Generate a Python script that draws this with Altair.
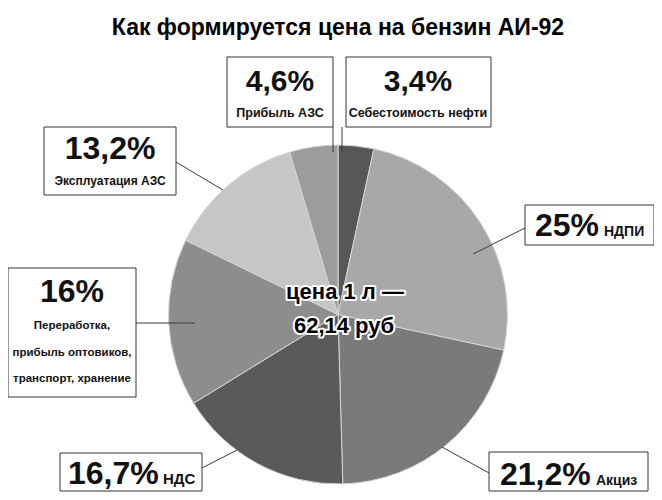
import altair as alt
import pandas as pd

# ---------------- data ----------------
categories = ["Себестоимость нефти", "НДПИ", "Акциз", "НДС",
              "Переработка, прибыль оптовиков, транспорт, хранение",
              "Эксплуатация АЗС", "Прибыль АЗС"]
values = [3.4, 25.0, 21.2, 16.7, 16.0, 13.2, 4.6]
pct_labels = ["3,4%", "25%", "21,2%", "16,7%", "16%", "13,2%", "4,6%"]
label_lines = [["Себестоимость нефти"], ["НДПИ"], ["Акциз"], ["НДС"],
               ["Переработка,", "прибыль оптовиков,", "транспорт, хранение"],
               ["Эксплуатация АЗС"], ["Прибыль АЗС"]]
title_text = "Как формируется цена на бензин АИ-92"
center_lines = ["цена 1 л —", "62,14 руб"]

# ---------------- styling / layout (page pixels) ----------------
colors = ["#575757", "#a8a8a8", "#7a7a7a", "#5a5a5a", "#8d8d8d", "#c6c6c6", "#9c9c9c"]
OFF = 8
W, H = 646, 484
CX, CY, R = 338, 314.5, 169.5
FONT = "Liberation Sans, Arial, sans-serif"

box_x0 = [346, 525, 489, 60, 8, 44, 227]
box_x1 = [491, 654, 648, 202, 136, 176, 333]
box_y0 = [57, 205, 452, 453, 268, 127, 57]
box_y1 = [127, 245, 491, 491, 397, 195, 127]
stacked = [True, False, False, False, True, True, True]
pct_x = [418, 535, 500, 68, 72, 110, 280]
pct_y = [91, 236, 485, 484, 302, 159, 91]
pct_size = [30, 32, 32, 32, 32, 32, 30]
lab_x = [418, 604, 596, 163, 72, 110, 280]
lab_y0 = [117, 236, 485, 484, 329, 185, 117]
lab_size = [12.5, 14, 14, 15, 11.5, 12, 12.5]
LAB_DY = 26.5
lead_x0 = [342, 525, 489, 202, 136, 176, 333]
lead_y0 = [127, 228, 473, 468, 323, 162, 127]
lead_x1 = [342, 473, 442, 237, 195, 223, 333]
lead_y1 = [152, 254, 447, 450, 323, 190, 152]

# ---------------- tables ----------------
pie_df = pd.DataFrame({"category": categories, "value": values,
                       "order": list(range(len(values)))})

box_df = pd.DataFrame({
    "x0": [v - OFF for v in box_x0], "x1": [v - OFF for v in box_x1],
    "y0": [v - OFF for v in box_y0], "y1": [v - OFF for v in box_y1]})
lead_df = pd.DataFrame({
    "x0": [v - OFF for v in lead_x0], "x1": [v - OFF for v in lead_x1],
    "y0": [v - OFF for v in lead_y0], "y1": [v - OFF for v in lead_y1]})

pct_rows, lab_rows = [], []
for i in range(len(values)):
    pct_rows.append({"x": pct_x[i] - OFF, "y": pct_y[i] - OFF, "text": pct_labels[i],
                     "size": pct_size[i], "stacked": stacked[i]})
    for j, line in enumerate(label_lines[i]):
        lab_rows.append({"x": lab_x[i] - OFF, "y": lab_y0[i] + j * LAB_DY - OFF,
                         "text": line, "size": lab_size[i], "stacked": stacked[i]})
pct_df = pd.DataFrame(pct_rows)
lab_df = pd.DataFrame(lab_rows)

center_df = pd.DataFrame({"text": center_lines,
                          "x": [345 - OFF, 344 - OFF],
                          "y": [299 - OFF, 333 - OFF]})
title_df = pd.DataFrame({"text": [title_text], "x": [338 - OFF], "y": [35 - OFF]})

X = lambda f: alt.X(f"{f}:Q", scale=None, axis=None)
Y = lambda f: alt.Y(f"{f}:Q", scale=None, axis=None)

# ---------------- layers ----------------
pie = alt.Chart(pie_df).mark_arc(outerRadius=R, stroke="#d6d6d6", strokeWidth=1).encode(
    theta=alt.Theta("value:Q", stack=True),
    order=alt.Order("order:Q"),
    color=alt.Color("category:N", scale=alt.Scale(domain=categories, range=colors), legend=None),
    x=alt.value(CX - OFF), y=alt.value(CY - OFF))

leaders = alt.Chart(lead_df).mark_rule(color="#3a3a3a", strokeWidth=1).encode(
    x=X("x0"), x2="x1", y=Y("y0"), y2="y1")

boxes = alt.Chart(box_df).mark_rect(fill="white", stroke="#333333", strokeWidth=1).encode(
    x=X("x0"), x2="x1", y=Y("y0"), y2="y1")

def text_layer(df, align):
    return alt.Chart(df).mark_text(align=align, baseline="alphabetic", font=FONT,
                                   fontWeight="bold", color="#111111").encode(
        x=X("x"), y=Y("y"), text="text:N", size=alt.Size("size:Q", scale=None, legend=None))

pct_c = text_layer(pct_df[pct_df.stacked], "center")
pct_l = text_layer(pct_df[~pct_df.stacked], "left")
lab_c = text_layer(lab_df[lab_df.stacked], "center")
lab_l = text_layer(lab_df[~lab_df.stacked], "left")

center_halo = alt.Chart(center_df).mark_text(
    align="center", baseline="alphabetic", font=FONT, fontSize=22, fontWeight="bold",
    fill="white", stroke="white", strokeWidth=4, strokeJoin="round").encode(
    x=X("x"), y=Y("y"), text="text:N")
center_txt = alt.Chart(center_df).mark_text(
    align="center", baseline="alphabetic", font=FONT, fontSize=22, fontWeight="bold",
    color="#000000").encode(x=X("x"), y=Y("y"), text="text:N")

title = alt.Chart(title_df).mark_text(
    align="center", baseline="alphabetic", font=FONT, fontSize=23, fontWeight="bold",
    color="#000000").encode(x=X("x"), y=Y("y"), text="text:N")

chart = alt.layer(pie, leaders, boxes, pct_c, pct_l, lab_c, lab_l,
                  center_halo, center_txt, title).properties(
    width=W, height=H, padding=0,
    autosize=alt.AutoSizeParams(type="none"),
    background="white",
).configure_view(stroke=None)

chart.save("out.html", embed_options={"renderer": "svg", "actions": False})
